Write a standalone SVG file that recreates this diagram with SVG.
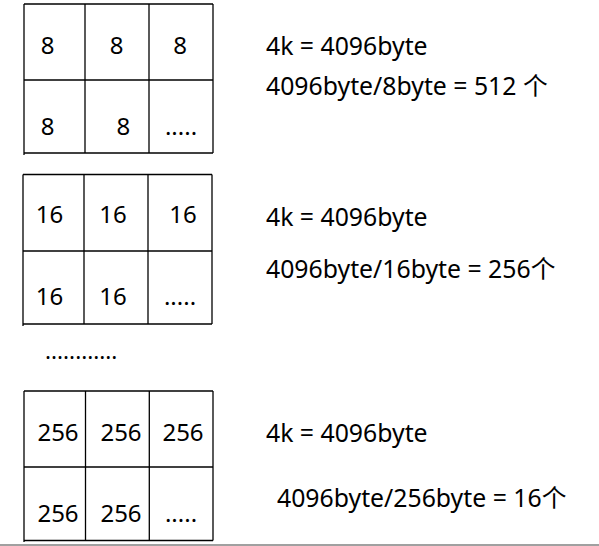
<svg xmlns="http://www.w3.org/2000/svg" width="599" height="546" viewBox="0 0 599 546">
<style>
.g line{stroke:#000;stroke-width:1.3;}
.c{font-family:"Noto Sans","Noto Sans CJK SC",sans-serif;font-size:24px;fill:#000;text-anchor:middle;}
.t{font-family:"Noto Sans","Noto Sans CJK SC",sans-serif;font-size:24.8px;fill:#000;}
.d{font-family:"Noto Sans",sans-serif;font-size:22.5px;fill:#000;}
</style>
<rect width="599" height="546" fill="#fff"/>
<g id="grid8" class="g">
<line x1="24" y1="4" x2="213" y2="4"/>
<line x1="24" y1="80" x2="213" y2="80"/>
<line x1="24" y1="153" x2="213" y2="153"/>
<line x1="24" y1="4" x2="24" y2="155"/>
<line x1="85" y1="4" x2="85" y2="153"/>
<line x1="149" y1="4" x2="149" y2="153"/>
<line x1="213" y1="4" x2="213" y2="153"/>
<text class="c" x="47.7" y="54">8</text>
<text class="c" x="116.7" y="54">8</text>
<text class="c" x="180" y="54">8</text>
<text class="c" x="47.7" y="135">8</text>
<text class="c" x="123.3" y="135">8</text>
<text class="c" x="181" y="135">.....</text>
</g>
<g id="grid16" class="g">
<line x1="23" y1="174.5" x2="212" y2="174.5"/>
<line x1="23" y1="251" x2="212" y2="251"/>
<line x1="23" y1="324" x2="212" y2="324"/>
<line x1="23" y1="174.5" x2="23" y2="326"/>
<line x1="84" y1="174.5" x2="84" y2="324"/>
<line x1="148" y1="174.5" x2="148" y2="324"/>
<line x1="212" y1="174.5" x2="212" y2="324"/>
<text class="c" x="49.5" y="222.5">16</text>
<text class="c" x="113" y="222.5">16</text>
<text class="c" x="183" y="222.5">16</text>
<text class="c" x="49.5" y="304.5">16</text>
<text class="c" x="113" y="304.5">16</text>
<text class="c" x="180" y="304.5">.....</text>
</g>
<text id="ellipsis" class="d" x="45" y="359">............</text>
<g id="grid256" class="g">
<line x1="24" y1="391" x2="213" y2="391"/>
<line x1="24" y1="467" x2="213" y2="467"/>
<line x1="24" y1="540.5" x2="213" y2="540.5"/>
<line x1="24" y1="391" x2="24" y2="542"/>
<line x1="85.5" y1="391" x2="85.5" y2="540.5"/>
<line x1="149.3" y1="391" x2="149.3" y2="540.5"/>
<line x1="213" y1="391" x2="213" y2="540.5"/>
<text class="c" x="58" y="441">256</text>
<text class="c" x="121" y="441">256</text>
<text class="c" x="183" y="441">256</text>
<text class="c" x="58" y="522">256</text>
<text class="c" x="121" y="522">256</text>
<text class="c" x="181" y="522">.....</text>
</g>
<g id="calc8">
<text class="t" x="266" y="55">4k = 4096byte</text>
<text class="t" x="266" y="95">4096byte/8byte = 512 个</text>
</g>
<g id="calc16">
<text class="t" x="266" y="226">4k = 4096byte</text>
<text class="t" x="266" y="278">4096byte/16byte = 256个</text>
</g>
<g id="calc256">
<text class="t" x="266" y="442">4k = 4096byte</text>
<text class="t" x="277" y="507">4096byte/256byte = 16个</text>
</g>
<line x1="0" y1="545" x2="599" y2="545" stroke="#a0a0a0" stroke-width="2"/>
</svg>
